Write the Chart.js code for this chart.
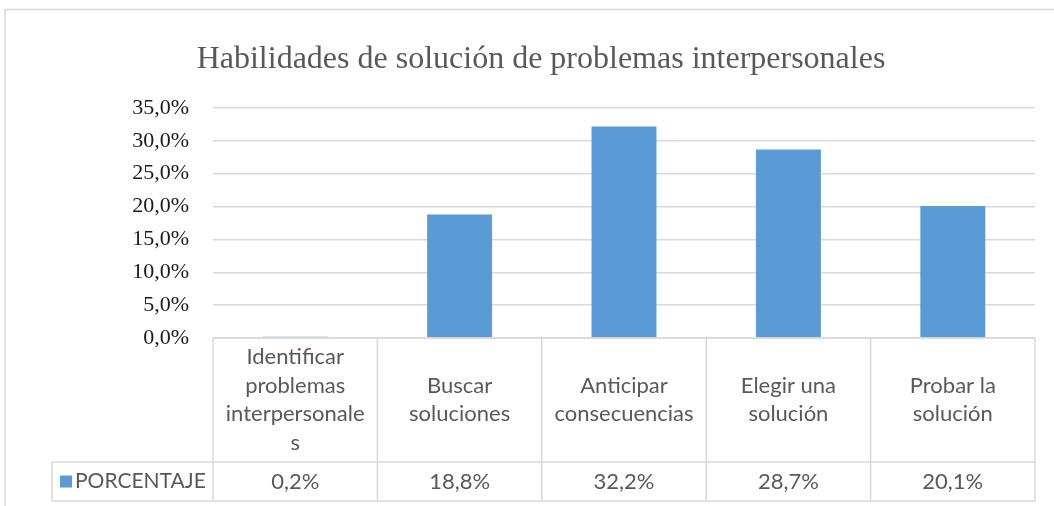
<!DOCTYPE html>
<html>
<head>
<meta charset="utf-8">
<script src="https://cdn.jsdelivr.net/npm/chart.js@4.4.0/dist/chart.umd.min.js"></script>
<style>
  html, body { margin: 0; padding: 0; background: #fff; overflow: hidden; }
  canvas { display: block; }
</style>
</head>
<body>
<canvas id="myChart" width="1082" height="506"></canvas>
<script>
const titleText = 'Habilidades de solución de problemas interpersonales';
// category names, already split the way the table cells wrap them
const categories = [
  ['Identificar', 'problemas', 'interpersonale', 's'],
  ['Buscar', 'soluciones'],
  ['Anticipar', 'consecuencias'],
  ['Elegir una', 'solución'],
  ['Probar la', 'solución']
];
const seriesName = 'PORCENTAJE';
const porcentaje = [0.002, 0.188, 0.322, 0.287, 0.201];
const yMin = 0;
const yMax = 0.35;
const yStep = 0.05;

const barColor = '#5B9BD5';
const lineColor = '#d9d9d9';
const textGrey = '#595959';
const sansFont = 'Lato, "Open Sans", sans-serif';

// 0.188 -> "18,8%"
function pct(v) {
  return (v * 100).toFixed(1).replace('.', ',') + '%';
}

// draws the data table under the plot (Excel style) and the chart frame
const dataTable = {
  id: 'dataTable',
  afterDraw(chart) {
    const { ctx, chartArea, scales: { x } } = chart;
    const half = (x.getPixelForValue(1) - x.getPixelForValue(0)) / 2;
    const top = chartArea.bottom;
    const mid = top + 124;
    const bottom = top + 163;
    const legendLeft = 52;
    const right = chartArea.right;

    ctx.save();
    ctx.strokeStyle = lineColor;
    ctx.lineWidth = 1.5;

    // chart frame (left + top edges are the only ones inside the picture)
    ctx.beginPath();
    ctx.moveTo(5, chart.height);
    ctx.lineTo(5, 9.5);
    ctx.lineTo(chart.width, 9.5);
    ctx.stroke();

    // horizontal table lines
    ctx.beginPath();
    ctx.moveTo(chartArea.left, top);
    ctx.lineTo(right, top);
    ctx.moveTo(legendLeft, mid);
    ctx.lineTo(right, mid);
    ctx.moveTo(legendLeft, bottom);
    ctx.lineTo(right, bottom);
    // vertical lines
    ctx.moveTo(legendLeft, mid);
    ctx.lineTo(legendLeft, bottom);
    for (let i = 0; i <= categories.length; i++) {
      const xp = x.getPixelForValue(i) - half;
      ctx.moveTo(xp, top);
      ctx.lineTo(xp, bottom);
    }
    ctx.stroke();

    // category names
    ctx.fillStyle = textGrey;
    ctx.font = '22px ' + sansFont;
    ctx.textAlign = 'center';
    ctx.textBaseline = 'middle';
    const lineH = 28.7;
    categories.forEach((lines, i) => {
      const cx = x.getPixelForValue(i);
      const y0 = (top + mid) / 2 - (lines.length - 1) * lineH / 2;
      lines.forEach((t, j) => ctx.fillText(t, cx, y0 + j * lineH));
    });

    // values row
    const rowY = (mid + bottom) / 2;
    porcentaje.forEach((v, i) => {
      ctx.fillText(pct(v), x.getPixelForValue(i), rowY);
    });

    // legend key
    ctx.fillStyle = barColor;
    ctx.fillRect(60, rowY - 6, 12, 12);
    ctx.fillStyle = textGrey;
    ctx.textAlign = 'left';
    ctx.font = '21px ' + sansFont;
    ctx.fillText(seriesName, 75, rowY);
    ctx.restore();
  }
};

const ctx = document.getElementById('myChart');
new Chart(ctx, {
  type: 'bar',
  data: {
    labels: categories,
    datasets: [{
      label: seriesName,
      data: porcentaje,
      backgroundColor: barColor,
      borderWidth: 0,
      barPercentage: 0.395,
      categoryPercentage: 1
    }]
  },
  options: {
    responsive: false,
    animation: false,
    layout: {
      padding: { left: 47, right: 47, top: 0, bottom: 168 }
    },
    plugins: {
      legend: { display: false },
      tooltip: { enabled: false },
      title: {
        display: true,
        text: titleText,
        color: textGrey,
        font: { family: '"Liberation Serif", "Times New Roman", serif', size: 32, weight: 'normal', lineHeight: 1.2 },
        padding: { top: 40, bottom: 29.6 }
      }
    },
    scales: {
      x: {
        display: false
      },
      y: {
        min: yMin,
        max: yMax,
        afterFit(scale) { scale.width = 166; },
        border: { display: false },
        grid: { color: lineColor, lineWidth: 1.5, drawTicks: false },
        ticks: {
          stepSize: yStep,
          padding: 24,
          color: '#1a1a1a',
          font: { family: '"Liberation Serif", "Times New Roman", serif', size: 22 },
          callback: (v) => pct(v)
        }
      }
    }
  },
  plugins: [dataTable]
});
</script>
</body>
</html>
